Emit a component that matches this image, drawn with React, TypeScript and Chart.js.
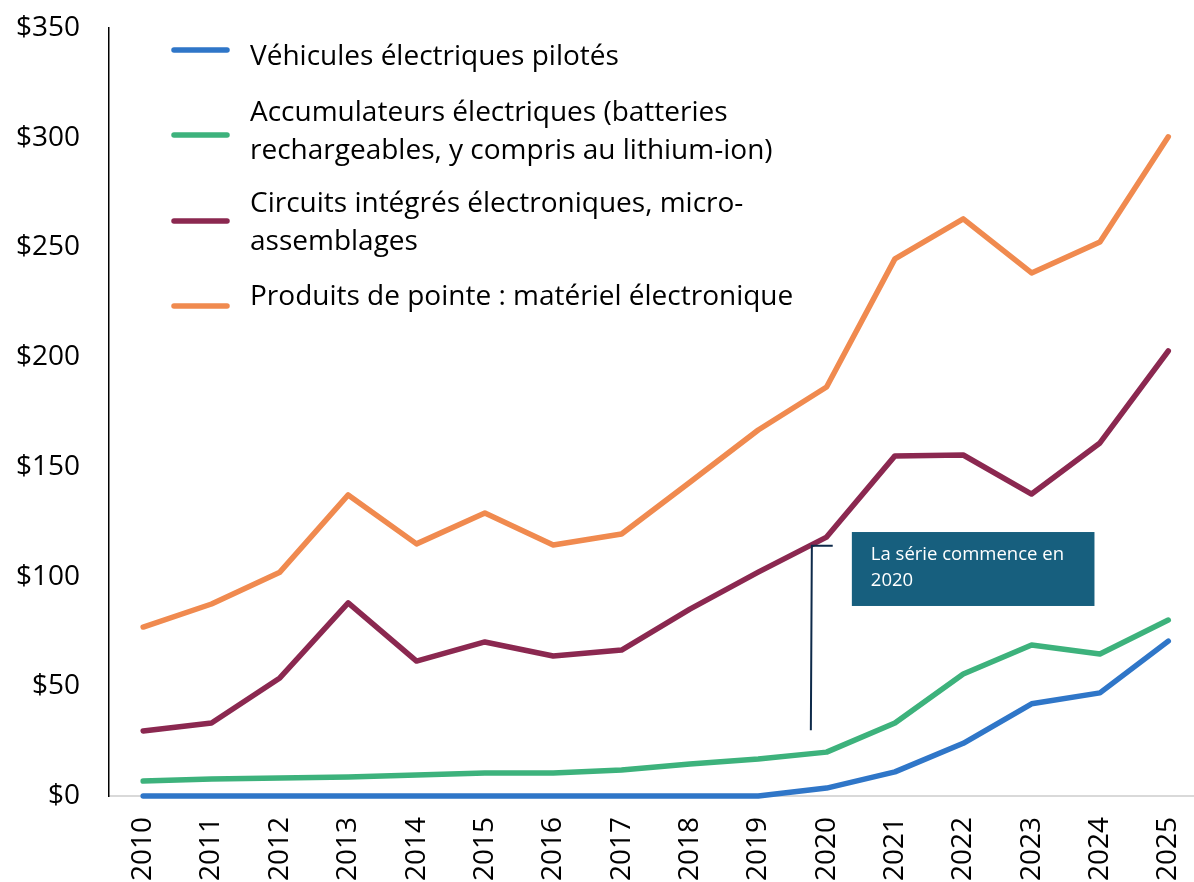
import React, { useEffect, useRef } from "react";
import { Chart, registerables } from "chart.js";

Chart.register(...registerables);

const years = ["2010", "2011", "2012", "2013", "2014", "2015", "2016", "2017", "2018", "2019", "2020", "2021", "2022", "2023", "2024", "2025"];
const vehicules = [0, 0, 0, 0, 0, 0, 0, 0, 0, 0, 3.6, 11, 24, 42, 47, 70.6];
const accumulateurs = [6.8, 7.7, 8.2, 8.7, 9.6, 10.5, 10.5, 11.9, 14.6, 16.9, 20, 33.3, 55.6, 68.8, 64.7, 80.2];
const circuits = [29.6, 33.3, 53.8, 88, 61.5, 70.2, 63.8, 66.5, 85.2, 102, 118, 155, 155.4, 137.6, 160.9, 202.8];
const produits = [77, 87.5, 102, 137.2, 114.9, 129, 114.4, 119.4, 143, 166.8, 186.4, 244.8, 263, 238.4, 252.5, 300.4];

const seriesLabels = [
  ["Véhicules électriques pilotés"],
  ["Accumulateurs électriques (batteries", "rechargeables, y compris au lithium-ion)"],
  ["Circuits intégrés électroniques, micro-", "assemblages"],
  ["Produits de pointe : matériel électronique"],
];
const seriesColors = ["#2F76C8", "#3DB27C", "#8B2850", "#F08A4F"];
const yMin = 0;
const yMax = 350;
const yStep = 50;

const noteLines = ["La série commence en", "2020"];
// annotation anchored in data space (category index, value)
const noteBox = { x0: 10.37, x1: 13.92, yTop: 120.3, yBottom: 86.6 };
const noteBracket = { x: 9.77, xEnd: 10.09, yTop: 114, yBottom: 30 };

const FONT = "'Open Sans', sans-serif";

const legendLayout = [
  { markY: 50, textY: [57] },
  { markY: 135, textY: [113, 151] },
  { markY: 221, textY: [204, 242] },
  { markY: 306, textY: [297] },
];

const legendPlugin = {
  id: "customLegend",
  afterDatasetsDraw(chart: any) {
    const ctx = chart.ctx;
    ctx.save();
    ctx.font = `28px ${FONT}`;
    ctx.textBaseline = "middle";
    ctx.textAlign = "left";
    legendLayout.forEach((row, i) => {
      ctx.strokeStyle = seriesColors[i];
      ctx.lineWidth = 5.5;
      ctx.lineCap = "round";
      ctx.beginPath();
      ctx.moveTo(174, row.markY);
      ctx.lineTo(227, row.markY);
      ctx.stroke();
      ctx.fillStyle = "#000";
      seriesLabels[i].forEach((t, j) => ctx.fillText(t, 250, row.textY[j]));
    });
    ctx.restore();
  },
};

const notePlugin = {
  id: "note",
  afterDatasetsDraw(chart: any) {
    const ctx = chart.ctx;
    const xs = chart.scales.x;
    const ys = chart.scales.y;
    const bx0 = xs.getPixelForValue(noteBox.x0);
    const bx1 = xs.getPixelForValue(noteBox.x1);
    const by0 = ys.getPixelForValue(noteBox.yTop);
    const by1 = ys.getPixelForValue(noteBox.yBottom);
    ctx.save();
    ctx.fillStyle = "#175F7E";
    ctx.fillRect(bx0, by0, bx1 - bx0, by1 - by0);
    ctx.fillStyle = "#fff";
    ctx.font = `18.5px ${FONT}`;
    ctx.textBaseline = "middle";
    ctx.textAlign = "left";
    noteLines.forEach((t, i) => ctx.fillText(t, bx0 + 19, by0 + 23 + i * 26));
    const lx = xs.getPixelForValue(noteBracket.x);
    const lx2 = xs.getPixelForValue(noteBracket.xEnd);
    const ly0 = ys.getPixelForValue(noteBracket.yTop);
    const ly1 = ys.getPixelForValue(noteBracket.yBottom);
    ctx.strokeStyle = "#0E2A4A";
    ctx.lineWidth = 2;
    ctx.beginPath();
    ctx.moveTo(lx, ly1);
    ctx.lineTo(lx + 1, ly0);
    ctx.lineTo(lx2, ly0);
    ctx.stroke();
    ctx.restore();
  },
};

export default function App() {
  const ref = useRef<HTMLCanvasElement | null>(null);
  useEffect(() => {
    document.body.style.margin = "0";
    const canvas = ref.current;
    if (!canvas) return;
    const data = [vehicules, accumulateurs, circuits, produits];
    const chart = new Chart(canvas, {
      type: "line",
      data: {
        labels: years,
        datasets: data.map((d, i) => ({
          label: seriesLabels[i].join(" "),
          data: d,
          borderColor: seriesColors[i],
          backgroundColor: seriesColors[i],
          borderWidth: 5.5,
          pointRadius: 0,
          pointHoverRadius: 0,
          tension: 0,
          borderCapStyle: "round",
          borderJoinStyle: "round",
          fill: false,
          clip: false,
        })),
      },
      options: {
        responsive: false,
        animation: false,
        layout: { padding: { top: 28, right: 4, left: 0, bottom: 0 } },
        plugins: { legend: { display: false }, tooltip: { enabled: false } },
        scales: {
          x: {
            offset: true,
            grid: { display: false, drawTicks: false },
            border: { display: true, color: "#D9D9D9", width: 2 },
            ticks: {
              autoSkip: false,
              maxRotation: 90,
              minRotation: 90,
              padding: 21,
              color: "#000",
              font: { family: FONT, size: 28 },
            },
            afterFit: (s: any) => {
              s.height = 86;
            },
          },
          y: {
            min: yMin,
            max: yMax,
            grid: { display: false, drawTicks: false },
            border: { display: true, color: "#000", width: 1.5 },
            ticks: {
              stepSize: yStep,
              padding: 29,
              color: "#000",
              font: { family: FONT, size: 28 },
              callback: (v: any) => `$${v}`,
            },
            afterFit: (s: any) => {
              s.width = 109;
              s.paddingTop = 0;
              s.paddingBottom = 0;
            },
          },
        },
      },
      plugins: [notePlugin, legendPlugin],
    });
    return () => chart.destroy();
  }, []);
  return (
    <div style={{ width: 1194, height: 882, overflow: "hidden", position: "relative", background: "#fff" }}>
      <canvas ref={ref} width={1223} height={882} style={{ display: "block", width: 1223, height: 882 }} />
    </div>
  );
}
